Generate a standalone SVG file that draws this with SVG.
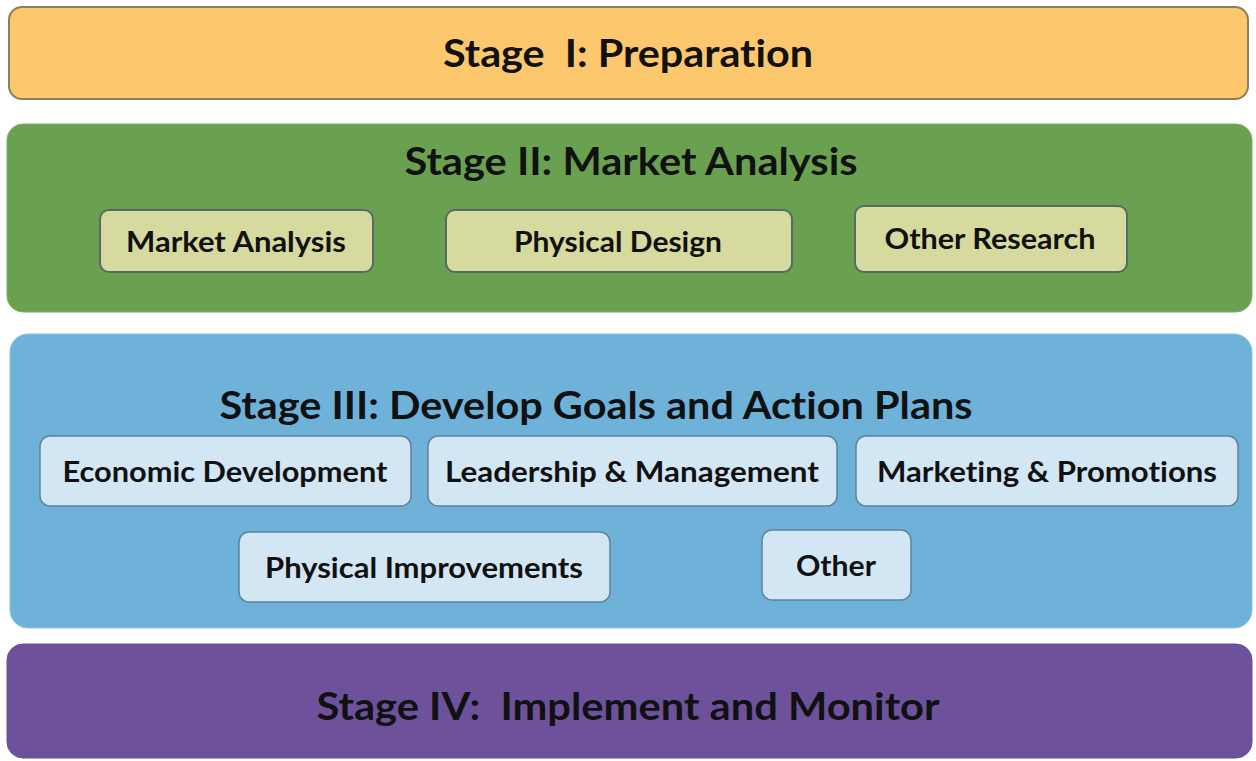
<svg xmlns="http://www.w3.org/2000/svg" width="1256" height="761" viewBox="0 0 1256 761">
<style>
  text { font-family: Lato, "Open Sans", "Liberation Sans", sans-serif; font-weight: bold; fill: #111111; text-anchor: middle; white-space: pre; font-variant-ligatures: none; }
  .title { font-size: 38px; }
  .sub { font-size: 29px; }
  .green-sub { fill: #D6DA9E; stroke: #546B66; stroke-width: 2; }
  .blue-sub { fill: #D3E6F4; stroke: #5F8299; stroke-width: 1.5; }
</style>
<rect width="1256" height="761" fill="#FFFFFF"/>

<g id="stage1">
  <rect x="9" y="7" width="1239" height="92" rx="13" fill="#FDC86D" stroke="#8C7E62" stroke-width="2"/>
  <text class="title" x="628" y="67" textLength="370" lengthAdjust="spacingAndGlyphs" xml:space="preserve">Stage  I: Preparation</text>
</g>

<g id="stage2">
  <rect x="7" y="124" width="1245" height="188" rx="16" fill="#6AA150" stroke="#7DAF66" stroke-width="1"/>
  <text class="title" x="631" y="175" textLength="453" lengthAdjust="spacingAndGlyphs">Stage II: Market Analysis</text>
</g>
<g id="market-analysis">
  <rect class="green-sub" x="100" y="210" width="273" height="62" rx="9"/>
  <text class="sub" x="236" y="252" textLength="220" lengthAdjust="spacingAndGlyphs">Market Analysis</text>
</g>
<g id="physical-design">
  <rect class="green-sub" x="446" y="210" width="346" height="62" rx="9"/>
  <text class="sub" x="618" y="252" textLength="208" lengthAdjust="spacingAndGlyphs">Physical Design</text>
</g>
<g id="other-research">
  <rect class="green-sub" x="855" y="206" width="272" height="66" rx="9"/>
  <text class="sub" x="990" y="249" textLength="211" lengthAdjust="spacingAndGlyphs">Other Research</text>
</g>

<g id="stage3">
  <rect x="10" y="334" width="1242" height="294" rx="18" fill="#6EB2D9" stroke="#8CC3E0" stroke-width="1"/>
  <text class="title" x="596" y="419" textLength="753" lengthAdjust="spacingAndGlyphs">Stage III: Develop Goals and Action Plans</text>
</g>
<g id="economic-development">
  <rect class="blue-sub" x="40" y="436" width="371" height="70" rx="10"/>
  <text class="sub" x="225" y="482" textLength="325" lengthAdjust="spacingAndGlyphs">Economic Development</text>
</g>
<g id="leadership-management">
  <rect class="blue-sub" x="428" y="436" width="409" height="70" rx="10"/>
  <text class="sub" x="632" y="482" textLength="374" lengthAdjust="spacingAndGlyphs">Leadership &amp; Management</text>
</g>
<g id="marketing-promotions">
  <rect class="blue-sub" x="856" y="436" width="382" height="70" rx="10"/>
  <text class="sub" x="1047" y="482" textLength="340" lengthAdjust="spacingAndGlyphs">Marketing &amp; Promotions</text>
</g>
<g id="physical-improvements">
  <rect class="blue-sub" x="239" y="532" width="371" height="70" rx="10"/>
  <text class="sub" x="424" y="578" textLength="318" lengthAdjust="spacingAndGlyphs">Physical Improvements</text>
</g>
<g id="other">
  <rect class="blue-sub" x="762" y="530" width="149" height="70" rx="10"/>
  <text class="sub" x="836" y="576" textLength="80" lengthAdjust="spacingAndGlyphs">Other</text>
</g>

<g id="stage4">
  <rect x="7" y="644" width="1245" height="114" rx="16" fill="#6D529B" stroke="#65508F" stroke-width="1"/>
  <text class="title" x="628" y="720" textLength="623" lengthAdjust="spacingAndGlyphs" xml:space="preserve">Stage IV:  Implement and Monitor</text>
</g>

<g id="connectors"></g>
</svg>
